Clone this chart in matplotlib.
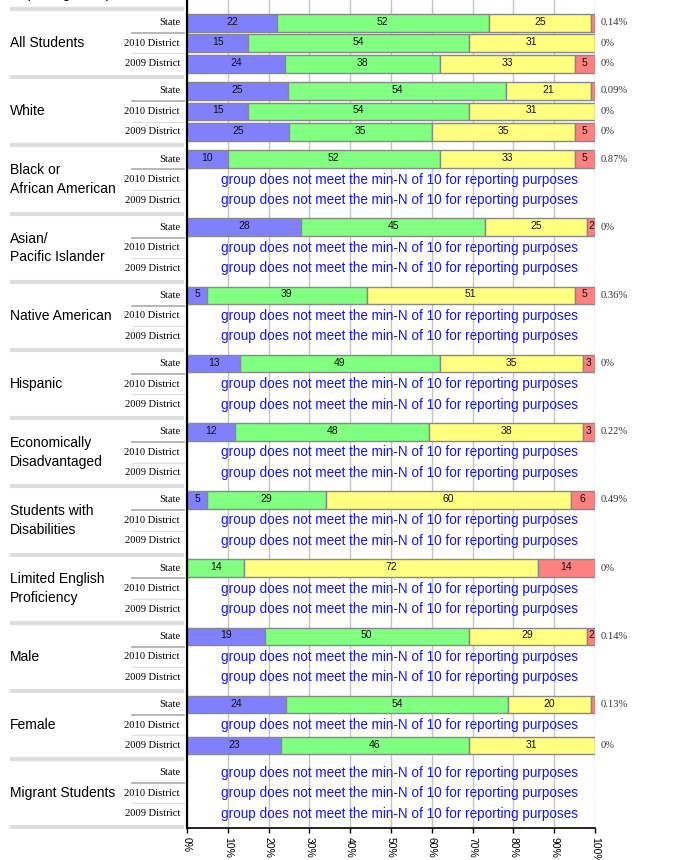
import matplotlib
matplotlib.use("Agg")
import matplotlib.pyplot as plt
from matplotlib import transforms

# ==============================
# data
# ==============================
groups = ["All Students", "White", "Black or\nAfrican American", "Asian/\nPacific Islander",
          "Native American", "Hispanic", "Economically\nDisadvantaged", "Students with\nDisabilities",
          "Limited English\nProficiency", "Male", "Female", "Migrant Students"]
row_labels = ["State", "2010 District", "2009 District"]

N = None
# one entry per row: (State, 2010 District, 2009 District) for each group
blue_pct = [22, 15, 24,  25, 15, 25,  10, N, N,  28, N, N,  5, N, N,  13, N, N,
            12, N, N,  5, N, N,  0, N, N,  19, N, N,  24, N, 23,  N, N, N]
green_pct = [52, 54, 38,  54, 54, 35,  52, N, N,  45, N, N,  39, N, N,  49, N, N,
             48, N, N,  29, N, N,  14, N, N,  50, N, N,  54, N, 46,  N, N, N]
yellow_pct = [25, 31, 33,  21, 31, 35,  33, N, N,  25, N, N,  51, N, N,  35, N, N,
              38, N, N,  60, N, N,  72, N, N,  29, N, N,  20, N, 31,  N, N, N]
red_pct = [1, 0, 5,  1, 0, 5,  5, N, N,  2, N, N,  5, N, N,  3, N, N,
           3, N, N,  6, N, N,  14, N, N,  2, N, N,  1, N, 0,  N, N, N]
right_notes = ["0.14%", "0%", "0%",  "0.09%", "0%", "0%",  "0.87%", "", "",  "0%", "", "",
               "0.36%", "", "",  "0%", "", "",  "0.22%", "", "",  "0.49%", "", "",
               "0%", "", "",  "0.14%", "", "",  "0.13%", "", "0%",  "", "", ""]

colors = ["#8080ff", "#80ff80", "#ffff80", "#ff8080"]
na_text = "group does not meet the min-N of 10 for reporting purposes"

SANS = "Liberation Sans"
SERIF = "Liberation Serif"

# ==============================
# layout
# ==============================
W, H = 692, 860
fig = plt.figure(figsize=(W / 100, H / 100), dpi=100)
ax = fig.add_axes([187 / W, 32 / H, 408 / W, 828 / H])

G = 68.18 / 20.5   # group period in row units
ypos = [g * G + r for g in range(len(groups)) for r in range(3)]

ax.set_xlim(0, 100)
ax.set_ylim(39.28, -1.107)

# ==============================
# bars
# ==============================
for i, y in enumerate(ypos):
    vals = [blue_pct[i], green_pct[i], yellow_pct[i], red_pct[i]]
    if vals[0] is None:
        ax.text(52, y, na_text, ha="center", va="center", color="#1414ff",
                fontsize=9.75, family=SANS)
        continue
    total = sum(vals)
    left = 0
    for v, c in zip(vals, colors):
        w = v / total * 100
        if v > 0:
            ax.barh(y, w, left=left, height=0.86, color=c, edgecolor="#888888", linewidth=1)
            if v >= 2:
                ax.text(left + w / 2, y - 0.05, str(v), ha="center", va="center",
                        fontsize=7.5, family=SANS, color="#111111")
        left += w

# ==============================
# axes styling
# ==============================
ax.set_xticks(range(0, 101, 10))
ax.set_xticklabels([f"{t}%" for t in range(0, 101, 10)], rotation=270,
                   fontsize=7.5, family=SANS, va="top", ha="center")
ax.set_yticks([])
ax.xaxis.grid(True, color="#c4c4c4", linewidth=1)
ax.set_axisbelow(True)
ax.tick_params(axis="x", length=3.5, width=1, pad=3, color="black")
for s in ["top", "right"]:
    ax.spines[s].set_visible(False)
ax.spines["left"].set_linewidth(1.6)
ax.spines["bottom"].set_linewidth(1.2)

# ==============================
# left and right labels
# ==============================
tr = transforms.blended_transform_factory(fig.transFigure, ax.transData)

for g, name in enumerate(groups):
    base = g * G
    ax.text(10 / W, base + 1, name, transform=tr, ha="left", va="center",
            fontsize=10, family=SANS, linespacing=1.4, clip_on=False)
    for r, lab in enumerate(row_labels):
        ax.text(180 / W, base + r, lab, transform=tr, ha="right", va="center",
                fontsize=7.6, family=SERIF, clip_on=False)
    ax.plot([132 / W, 184 / W], [base + 0.5, base + 0.5], transform=tr,
            color="#aaaaaa", lw=1.2, clip_on=False)
    ax.plot([132 / W, 184 / W], [base + 1.5, base + 1.5], transform=tr,
            color="#dddddd", lw=0.8, clip_on=False)

for g in range(-1, len(groups)):
    yb = g * G + 2 + (G - 2) / 2
    ax.plot([10 / W, 184 / W], [yb, yb], transform=tr, color="#dddddd",
            lw=3, solid_capstyle="butt", clip_on=False)

for i, y in enumerate(ypos):
    if right_notes[i]:
        ax.text(601 / W, y, right_notes[i], transform=tr, ha="left", va="center",
                fontsize=7.6, family=SERIF, color="#333333", clip_on=False)

# header, mostly cut off at the top of the picture
fig.text(10 / W, 1 + 1.5 / H, "Reporting Group", ha="left", va="baseline",
         fontsize=10, family=SANS)

fig.savefig("out.png", dpi=100)
